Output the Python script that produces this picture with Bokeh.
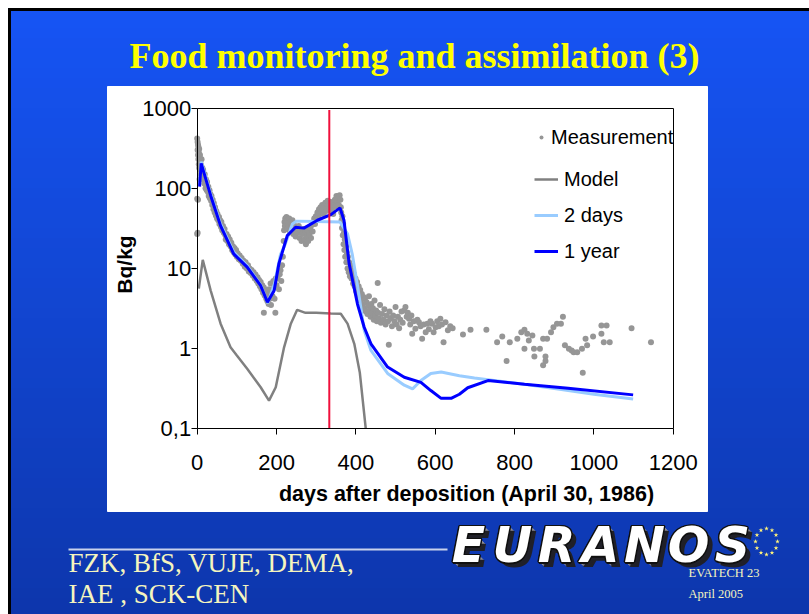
import math
from bokeh.plotting import figure
from bokeh.models import (Range1d, LinearScale, LogScale, LinearAxis, LogAxis,
                          FixedTicker, Legend, LegendItem)
from bokeh.core.properties import value
from bokeh.embed import file_html
from bokeh.resources import INLINE

# ---------------- data ----------------
title_text = "Food monitoring and assimilation (3)"
x_label = "days after deposition (April 30, 1986)"
y_label = "Bq/kg"
x_ticks = [0, 200, 400, 600, 800, 1000, 1200]
y_ticks = [0.1, 1, 10, 100, 1000]
y_tick_labels = ["0,1", "1", "10", "100", "1000"]
assimilation_day = [333, 333]
assimilation_span = [0.1, 950]

year_day = [6, 10, 34, 59, 92, 126, 160, 177, 194, 206, 227, 248, 269, 303, 337, 360, 370, 383,
            404, 421, 438, 480, 522, 564, 589, 615, 640, 661, 682, 733, 825, 935, 1099]
year_val = [105, 205, 81, 34, 15.2, 10.4, 6.1, 3.8, 5.3, 11.5, 25.7, 32.7, 31.9, 40, 47, 57, 40, 11.5,
            3.6, 1.85, 1.15, 0.59, 0.44, 0.38, 0.30, 0.24, 0.24, 0.27, 0.325, 0.40, 0.36, 0.32, 0.265]

days2_day = [6, 10, 34, 59, 92, 126, 160, 178, 195, 210, 220, 240, 250, 300, 360, 379, 391, 404,
             421, 438, 480, 522, 543, 564, 589, 615, 661, 699, 825, 918, 1000, 1099]
days2_val = [110, 215, 85, 36, 16, 10.8, 6.2, 3.7, 6.5, 15, 19, 36, 39, 38.5, 38, 27, 15, 6.2,
             1.7, 0.95, 0.49, 0.35, 0.315, 0.40, 0.49, 0.51, 0.46, 0.43, 0.36, 0.31, 0.27, 0.235]

model_day = [4, 14, 34, 59, 84, 100, 126, 160, 181, 198, 219, 236, 252, 273, 300, 337, 362, 379, 396, 410, 425]
model_val = [5.6, 12.8, 5.3, 2.05, 1.04, 0.82, 0.56, 0.33, 0.225, 0.33, 1.04, 2.05, 3.05, 2.8, 2.8, 2.75,
             2.72, 2.05, 1.15, 0.5, 0.1]

meas_day = [
    0, 0, 0, 1, 1, 1, 2, 2, 2, 3, 3, 4, 4, 5, 5, 6, 6, 7, 7, 8, 8, 9, 9, 10, 11, 11, 12, 13, 13, 14, 15, 15,
    17, 18, 19, 20, 21, 22, 23, 24, 25, 27, 28, 29, 31, 32, 33, 35, 36, 38, 39, 41, 42, 44, 45, 47, 48, 50,
    51, 53, 55, 56, 58, 60, 61,
    63, 65, 67, 69, 71, 72, 74, 76, 78, 80, 82, 84, 86, 88, 90, 92, 94, 96, 98, 100, 102, 105, 107, 110,
    112, 115, 117, 120, 122, 125, 128, 130,
    132, 135, 137, 140, 142, 145, 147, 150, 152, 154, 156, 158, 160, 162, 164, 166, 168, 168, 170, 172,
    174, 175, 177, 178, 180, 181, 183, 185, 186, 188, 190, 192, 194, 195, 197, 198,
    200, 203, 206, 208, 210, 212, 214, 216, 218, 219, 220, 221, 222, 224, 225, 227, 228, 230, 232, 234,
    236, 238, 240, 242, 244, 246, 248, 250,
    253, 256, 258, 261, 263, 266, 268, 270, 272, 274, 276, 278, 280, 283, 285, 287, 289, 291, 293, 295,
    297, 299, 301, 303, 305, 307, 309, 311, 313, 315, 317, 319, 321, 323, 325, 327, 329, 331, 333, 335,
    337, 339, 341, 343, 345, 347, 349, 351, 353, 355, 357, 359, 361, 362,
    363, 364, 365, 366, 367, 368, 369, 370, 371, 372, 373, 375, 376, 377, 379, 380, 382, 383, 385, 387,
    389, 391, 393, 395, 397, 399, 401, 403, 405, 407, 409, 411, 413, 415, 417, 419,
    421, 423, 425, 427, 429, 431, 433, 435, 437, 439, 441, 443, 445, 447, 449, 451, 453, 455, 456, 458,
    461, 463, 466, 469, 472, 475, 478, 481, 483, 485, 488, 491, 494, 497, 500, 503, 506, 509, 512, 515, 518,
    522, 525, 528, 531, 534, 537, 540, 542, 546, 550, 555, 559, 563, 567, 571, 576, 580, 584, 588, 592,
    596, 601, 605, 609, 613, 617, 621, 626, 632, 638, 644,
    670, 689, 729, 756, 769, 780, 788, 807, 817, 825, 832, 825, 836, 845, 849, 850, 864, 872, 882, 872,
    878, 878, 892, 898, 907, 917, 922, 927, 937, 944, 949, 958, 970, 972, 979, 983, 998, 1019, 1019, 1025,
    1032, 1040, 1095, 1144]
meas_val = [
    420, 74, 27, 380, 28, 300, 350, 72, 260, 330, 230, 280, 200, 310, 180, 240, 130, 260, 210, 230, 170,
    200, 150, 190, 170, 230, 160, 180, 140, 150, 130, 170,
    140, 115, 150, 125, 100, 130, 110, 95, 120, 90, 105, 80, 95, 75, 85, 70, 80, 62, 72, 55, 65, 50, 58,
    46, 52, 42, 48, 40, 44, 36, 40, 33, 38,
    30, 34, 28, 31, 26, 23, 27, 22, 25, 20, 23, 19, 21, 17, 19, 16, 18, 15, 17, 14, 15.5, 13, 14.5, 12.5,
    13.5, 11.5, 12.5, 10.5, 12, 10, 11, 9.2,
    10, 8.8, 9.6, 8.2, 9, 7.5, 8.4, 7, 7.8, 6.5, 7.2, 6, 6.8, 5.5, 6.2, 5, 5.8, 2.8, 4.6, 5.4,
    4.2, 5, 3.9, 4.6, 3.6, 5.5, 4.2, 6.5, 3.5, 5.2, 4.5, 7, 5.8, 4.2, 2.8, 7.5,
    6.2, 7.5, 5.5, 8.5, 9.5, 7, 11, 14, 22, 30, 38, 34, 42, 37, 44, 31, 40, 35, 42, 29,
    38, 33, 40, 27, 35, 30, 25, 32,
    28, 34, 24, 30, 22, 27, 31, 23, 28, 20, 25, 30, 22, 27, 32, 24, 35, 29, 38, 42,
    36, 45, 40, 50, 44, 55, 48, 58, 52, 62, 55, 48, 60, 66, 52, 58, 70, 62, 55, 68,
    60, 50, 56, 48, 64, 72, 60, 80, 70, 76, 62, 82, 72, 58,
    50, 40, 32, 45, 26, 36, 20, 28, 17, 23, 14, 19, 12, 16, 10, 14, 9, 12, 8, 11,
    7.5, 9.5, 6.5, 8.5, 6, 7.5, 5.2, 6.8, 4.6, 6, 4.2, 5.4, 3.8, 4.8, 3.5, 4.4,
    3.2, 4.2, 2.9, 3.8, 2.7, 3.4, 4.5, 3.0, 2.5, 3.6, 2.8, 3.2, 2.3, 4.0, 2.6, 3.0, 2.2, 6.6, 2.8, 2.4,
    3.5, 2.1, 2.7, 2.3, 3.1, 2.0, 2.6, 2.2, 1.12, 2.9, 2.4, 1.9, 2.6, 2.2, 3.3, 2.0, 2.5, 1.8, 2.3, 2.9, 2.1,
    3.0, 3.3, 2.5, 2.8, 2.36, 2.0, 2.6, 1.53, 2.2, 1.77, 2.3, 2.14, 1.9, 1.33, 2.0, 1.6, 2.04, 1.75, 2.2, 2.04,
    1.6, 1.85, 2.2, 1.9, 2.36, 2.0, 1.2, 2.14, 1.7, 1.9, 1.8,
    1.5, 1.72, 1.72, 1.2, 1.42, 0.70, 1.2, 1.33, 1.6, 1.72, 1.53, 1.0, 1.26, 1.46, 1.0, 0.8, 1.0, 1.33, 1.33, 0.62,
    0.8, 0.7, 1.6, 1.85, 2.04, 2.05, 2.5, 1.1, 1.0, 0.95, 0.9, 0.9, 1.0, 0.5, 1.33, 1.1, 1.42, 1.95, 1.53, 1.2,
    1.95, 1.2, 1.8, 1.2]

footer_lines = ["FZK, BfS, VUJE, DEMA,", "IAE , SCK-CEN"]
logo_letters = list("EURANOS")
event_lines = ["EVATECH  23", "April 2005"]

# ---------------- figure ----------------
W, H = 809, 614


def X(px):
    return px


def Y(py):
    return H - py


p = figure(width=W, height=H, output_backend="svg", toolbar_location=None,
           x_axis_type=None, y_axis_type=None, min_border=0,
           x_range=Range1d(-495.9, 1543.6),
           y_range=Range1d(10 ** -3.3169, 10 ** 4.3437))
p.y_scale = LogScale()
p.outline_line_color = None
p.background_fill_color = "white"
p.border_fill_color = "white"
p.extra_x_ranges = {"px": Range1d(0, W)}
p.extra_y_ranges = {"px": Range1d(0, H)}
p.extra_x_scales = {"px": LinearScale()}
p.extra_y_scales = {"px": LinearScale()}
PX = dict(x_range_name="px", y_range_name="px")

# background gradient (slide starts at 8,8)
top_rgb = (22, 84, 244)
bot_rgb = (13, 54, 172)
n = 61
lefts, rights, tops, bots, cols = [], [], [], [], []
for i in range(n):
    f = i / (n - 1)
    c = tuple(round(a + (b - a) * f) for a, b in zip(top_rgb, bot_rgb))
    t = 8 + i * 10
    lefts.append(8); rights.append(W)
    tops.append(Y(t)); bots.append(max(Y(t + 10), 0))
    cols.append("#%02x%02x%02x" % c)
p.quad(left=lefts, right=rights, top=tops, bottom=bots, color=cols, line_color=cols, **PX)

# black slide border (top, left)
p.quad(left=[X(8), X(8)], right=[X(10), W], top=[Y(8), Y(8)], bottom=[0, Y(10)], color="black", **PX)

# white chart panel
p.quad(left=[X(107)], right=[X(707)], top=[Y(86)], bottom=[Y(511)], color="white", **PX)

# title
p.text(x=[X(414)], y=[Y(55)], text=[title_text], text_font=value("Liberation Serif"),
       text_font_style="bold", text_font_size="36px", text_color="#FFFF00",
       text_align="center", text_baseline="middle", **PX)

# footer
p.segment(x0=[X(68)], y0=[Y(549)], x1=[X(447)], y1=[Y(549)], line_color="#C8D2EC", line_width=2, **PX)
p.text(x=[X(68), X(68)], y=[Y(562), Y(593)], text=footer_lines, text_font=value("Liberation Serif"),
       text_font_size="27px", text_color="#F5F5BE", text_align="left", text_baseline="middle", **PX)
p.text(x=[X(688), X(688)], y=[Y(572), Y(593)], text=event_lines, text_font=value("Liberation Serif"),
       text_font_size="12.5px", text_color="#F5F5BE", text_align="left", text_baseline="middle", **PX)

# logo: grey 3D shadow, black outline, white face
lx = [X(468 + 44 * i) for i in range(len(logo_letters))]
offsets = [(2, -2, "#8a8a96"), (3, -3, "#8a8a96"), (4, -4, "#6e6e7a"), (5, -5, "#202028"),
           (-1.5, 0, "#101010"), (1.5, 0, "#101010"), (0, 1.5, "#101010"), (0, -1.5, "#101010"),
           (-1, 1, "#101010"), (1, 1, "#101010"), (-1, -1, "#101010"), (1, -1, "#101010"),
           (0, 0, "white")]
for dx, dy, col in offsets:
    p.text(x=[v + dx for v in lx], y=[Y(545) + dy] * len(lx), text=logo_letters,
           text_font=value("DejaVu Sans"), text_font_style="bold italic", text_font_size="49px",
           text_color=col, text_align="center", text_baseline="middle", **PX)
sx = [X(766) + 11 * math.cos(k * math.pi / 6) for k in range(12)]
sy = [Y(541) + 13 * math.sin(k * math.pi / 6) for k in range(12)]
p.scatter(x=sx, y=sy, marker="star", size=5, color="#FFF27A", line_color=None, **PX)

# axis titles
p.text(x=[X(466)], y=[Y(493)], text=[x_label], text_font=value("Liberation Sans"),
       text_font_style="bold", text_font_size="21.5px", text_color="black",
       text_align="center", text_baseline="middle", **PX)
p.text(x=[X(124)], y=[Y(264)], text=[y_label], text_font=value("Liberation Sans"),
       text_font_style="bold", text_font_size="21px", text_color="black", angle=math.pi / 2,
       text_align="center", text_baseline="middle", **PX)

# data
r_meas = p.scatter(x=meas_day, y=meas_val, marker="circle", size=6, color="#969696", line_color=None)
r_model = p.line(x=model_day, y=model_val, line_color="#808080", line_width=2.5)
r_2d = p.line(x=days2_day, y=days2_val, line_color="#99CCFF", line_width=3)
r_1y = p.line(x=year_day, y=year_val, line_color="#0000FF", line_width=3)
p.line(x=assimilation_day, y=assimilation_span, line_color="#F0103C", line_width=2)

# axes
FONT = "Liberation Sans"
xaxis = LinearAxis(fixed_location=0.1, bounds=(0, 1200), ticker=FixedTicker(ticks=x_ticks))
yaxis = LogAxis(fixed_location=0, bounds=(0.1, 1000), ticker=FixedTicker(ticks=y_ticks),
                major_label_overrides=dict(zip(y_ticks, y_tick_labels)))
for ax in (xaxis, yaxis):
    ax.major_tick_in = 0
    ax.major_tick_out = 6
    ax.minor_tick_in = 0
    ax.minor_tick_out = 0
    ax.axis_line_color = "black"
    ax.major_tick_line_color = "black"
    ax.major_label_text_font = FONT
    ax.major_label_text_font_size = "22px"
    ax.major_label_text_color = "black"
xaxis.major_label_standoff = 20
yaxis.major_label_standoff = 0
p.add_layout(xaxis, "below")
p.add_layout(yaxis, "left")

top_axis = LinearAxis(fixed_location=1000, bounds=(0, 1200), ticker=FixedTicker(ticks=[]))
right_axis = LogAxis(fixed_location=1200, bounds=(0.1, 1000), ticker=FixedTicker(ticks=[]))
for ax in (top_axis, right_axis):
    ax.major_tick_out = 0
    ax.major_tick_in = 0
    ax.minor_tick_out = 0
    ax.minor_tick_in = 0
    ax.major_label_text_font_size = "0px"
    ax.axis_line_color = "black"
p.add_layout(top_axis, "above")
p.add_layout(right_axis, "right")

# legends
common = dict(padding=0, margin=0, border_line_color=None, background_fill_alpha=0,
              label_text_font=FONT, label_text_font_size="20px", label_text_color="black",
              glyph_height=24, label_height=24, spacing=12)
leg1 = Legend(items=[LegendItem(label="Measurement", renderers=[r_meas])], location=(536, 465),
              glyph_width=10, label_standoff=5, **common)
leg2 = Legend(items=[LegendItem(label="Model", renderers=[r_model]),
                     LegendItem(label="2 days", renderers=[r_2d]),
                     LegendItem(label="1 year", renderers=[r_1y])], location=(534, 351),
              glyph_width=24, label_standoff=6, **common)
p.add_layout(leg1, "center")
p.add_layout(leg2, "center")

open("out.html", "w").write(file_html(p, INLINE))
